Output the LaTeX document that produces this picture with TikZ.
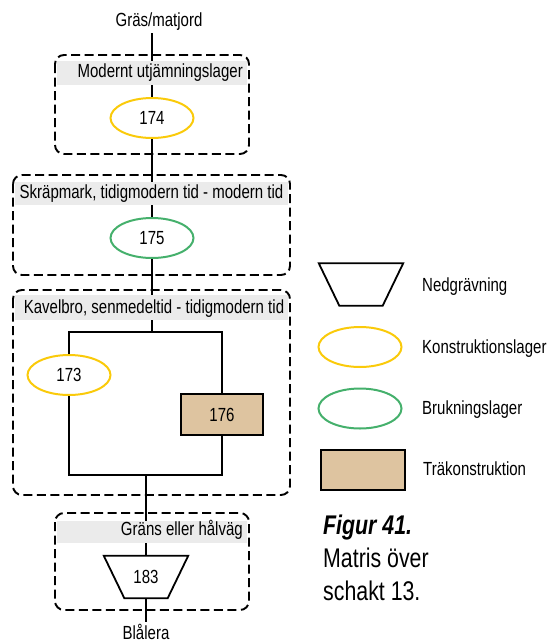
\documentclass[tikz,border=0pt]{standalone}
\usepackage{fontspec}
\usetikzlibrary{shapes.geometric}
\setmainfont{Liberation Sans}[FakeStretch=0.79]
\definecolor{bandgray}{HTML}{EBEBEB}
\definecolor{konstyellow}{HTML}{FACA0A}
\definecolor{brukgreen}{HTML}{45B06C}
\definecolor{woodtan}{HTML}{DEC4A0}
\begin{document}
\begin{tikzpicture}[x=1pt,y=-1pt,
  conn/.style={line width=1.8pt},
  grp/.style={draw,line width=1.9pt,dash pattern=on 9pt off 4.5pt,rounded corners=9pt},
  band/.style={fill=bandgray,draw=none},
  lbl/.style={font=\fontsize{19}{22}\selectfont,inner sep=0pt},
  konst/.style={ellipse,draw=konstyellow,line width=2pt,minimum width=83pt,minimum height=40pt,inner sep=0pt,font=\fontsize{19}{22}\selectfont},
  bruk/.style={ellipse,draw=brukgreen,line width=2pt,minimum width=83pt,minimum height=40pt,inner sep=0pt,font=\fontsize{19}{22}\selectfont},
  wood/.style={rectangle,draw=black,fill=woodtan,line width=2pt,minimum width=82pt,minimum height=41pt,inner sep=0pt,font=\fontsize{19}{22}\selectfont},
  nedg/.style={rectangle,minimum width=84pt,minimum height=42pt,inner sep=0pt,font=\fontsize{19}{22}\selectfont},
  trap/.style={draw,line width=1.8pt},
  capt/.style={font=\fontsize{27}{31}\selectfont,inner sep=0pt,anchor=base west}
]
\useasboundingbox (0,0) rectangle (548,643);

% nodes
\node[lbl,anchor=base] (top) at (159,26) {Gräs/matjord};
\coordinate (c0) at (152,33);
\node[konst] (n174) at (152,118) {174};
\node[bruk] (n175) at (152,238) {175};
\node[konst] (n173) at (69,375) {173};
\node[wood] (n176) at (222,414.5) {176};
\node[nedg] (n183) at (146,577) {183};
\draw[trap] (n183.north west) -- (n183.north east) -- ([xshift=-20.5pt]n183.south east) -- ([xshift=20.5pt]n183.south west) -- cycle;
\node[lbl,anchor=base] (bot) at (146,639.5) {Blålera};
\coordinate (cb) at (146,622);
\coordinate (jt) at (152,332);
\coordinate (jb) at (146,475);

% connectors
\draw[conn] (c0) -- (n174.north);
\draw[conn] (n174.south) -- (n175.north);
\draw[conn] (n175.south) -- (jt);
\draw[conn] (n173.north) |- (jt) -| (n176.north);
\draw[conn] (n173.south) |- (jb) -| (n176.south);
\draw[conn] (jb) -- (n183.north);
\draw[conn] (n183.south) -- (cb);

% header bands
\fill[band] (57,61) rectangle (247,85);
\fill[band] (15,182) rectangle (288,205);
\fill[band] (15,295) rectangle (288,320);
\fill[band] (57,521) rectangle (247,543);
\node[lbl,anchor=base east] (h1) at (243,77.5) {Modernt utjämningslager};
\node[lbl,anchor=base] (h2) at (151.5,198.5) {Skräpmark, tidigmodern tid - modern tid};
\node[lbl,anchor=base] (h3) at (154,313.5) {Kavelbro, senmedeltid - tidigmodern tid};
\node[lbl,anchor=base east] (h4) at (243,535.5) {Gräns eller hålväg};

% group boxes
\draw[grp] (55,55) rectangle (249,154);
\draw[grp] (13,175) rectangle (290,275);
\draw[grp] (13,290) rectangle (290,495);
\draw[grp] (55,513) rectangle (249,610);

% legend
\node[nedg] (L1) at (361,284.5) {};
\draw[trap] (L1.north west) -- (L1.north east) -- ([xshift=-20.5pt]L1.south east) -- ([xshift=20.5pt]L1.south west) -- cycle;
\node[konst] (L2) at (360,347) {};
\node[bruk] (L3) at (360,408.5) {};
\node[wood,line width=2.6pt,minimum width=84pt,minimum height=40pt] (L4) at (363,470) {};
\node[lbl,anchor=base west] (t1) at (422,291.5) {Nedgrävning};
\node[lbl,anchor=base west] (t2) at (422,353.5) {Konstruktionslager};
\node[lbl,anchor=base west] (t3) at (422,414.5) {Brukningslager};
\node[lbl,anchor=base west] (t4) at (423,475.5) {Träkonstruktion};

% caption
\node[capt] (cap1) at (323,534) {\bfseries\itshape Figur 41.};
\node[capt] (cap2) at (323,567) {Matris över};
\node[capt] (cap3) at (323,600) {schakt 13.};
\end{tikzpicture}
\end{document}
